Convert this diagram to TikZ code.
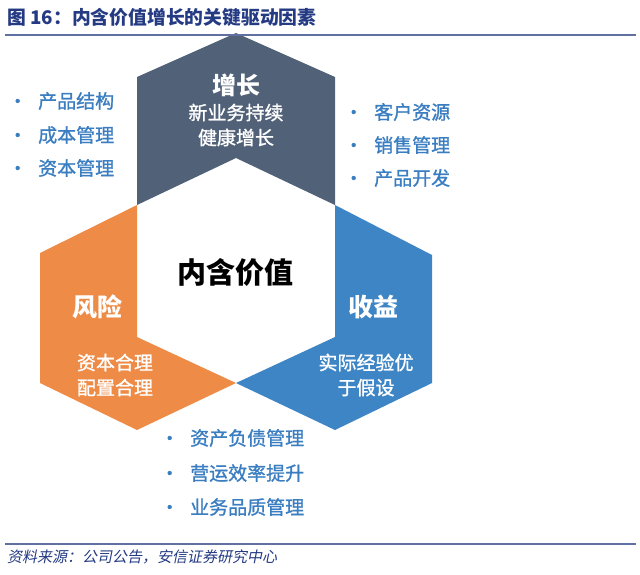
\documentclass[tikz,border=0pt]{standalone}
\usepackage{fontspec}
\setmainfont{Noto Sans CJK SC}
\newfontfamily\slantcjk{Noto Sans CJK SC}[FakeSlant=0.2]
\newfontfamily\medcjk{Noto Sans CJK SC}[FakeBold=1.2]
\usepackage{xcolor}
\definecolor{growthslate}{RGB}{80, 97, 120}
\definecolor{riskorange}{RGB}{238, 139, 70}
\definecolor{yieldblue}{RGB}{62, 133, 197}
\definecolor{itemblue}{RGB}{58, 125, 192}
\definecolor{titleblue}{RGB}{36, 58, 130}
\definecolor{rulegray}{RGB}{96, 112, 160}
\usepackage{tikz}

\newcommand{\bul}{\makebox[30pt][l]{•}}

\begin{document}
\begin{tikzpicture}[x=1pt, y=-1pt,
    head/.style={text=white, font=\bfseries\fontsize{25}{30}\selectfont},
    body/.style={text=white, align=center, font=\medcjk\fontsize{19}{25}\selectfont},
    item/.style={anchor=west, inner sep=0pt, text=itemblue, font=\medcjk\fontsize{19}{24}\selectfont},
    rule/.style={rulegray, line width=1.4pt}]
    \useasboundingbox (0,0) rectangle (640,574);

    \coordinate (hexT) at (236,158);
    \coordinate (hexUL) at (137,205);
    \coordinate (hexLL) at (137,337);
    \coordinate (hexB) at (236,383);
    \coordinate (hexLR) at (335,337);
    \coordinate (hexUR) at (335,205);

    \fill[growthslate] (hexUL) -- (hexT) -- (hexUR) -- (335,77) -- (236,33) -- (137,77) -- cycle;
    \fill[riskorange] (hexUL) -- (hexLL) -- (hexB) -- (137,430) -- (40,383) -- (40,253) -- cycle;
    \fill[yieldblue] (hexUR) -- (hexLR) -- (hexB) -- (335,430) -- (432,383) -- (432,255) -- cycle;

    \draw[rule] (5,35) -- (636,35);
    \draw[rule] (5,544) -- (636,544);

    \node[anchor=west, inner sep=0pt, text=titleblue, font=\bfseries\fontsize{18.8}{22}\selectfont] (title) at (7,17) {图 16：内含价值增长的关键驱动因素};
    \node[anchor=west, inner sep=0pt, text=titleblue, font=\slantcjk\fontsize{15}{18}\selectfont] (source) at (7,557) {资料来源：公司公告，安信证券研究中心};

    \node[head, font=\bfseries\fontsize{24}{28}\selectfont] (growth) at (236,85) {增长};
    \node[body] (growthtxt) at (236,125) {新业务持续\\健康增长};
    \node[font=\bfseries\fontsize{29}{34}\selectfont] (core) at (235,272) {内含价值};
    \node[head] (risk) at (97,307) {风险};
    \node[body] (risktxt) at (115,375) {资本合理\\配置合理};
    \node[head] (yield) at (373,307) {收益};
    \node[body] (yieldtxt) at (366,375) {实际经验优\\于假设};

    \node[item] (growth1) at (8,101) {\bul 产品结构};
    \node[item] (growth2) at (8,135) {\bul 成本管理};
    \node[item] (growth3) at (8,168) {\bul 资本管理};
    \node[item] (yield1) at (344,112) {\bul 客户资源};
    \node[item] (yield2) at (344,145) {\bul 销售管理};
    \node[item] (yield3) at (344,178) {\bul 产品开发};
    \node[item] (risk1) at (160,438) {\bul 资产负债管理};
    \node[item] (risk2) at (160,473) {\bul 营运效率提升};
    \node[item] (risk3) at (160,507) {\bul 业务品质管理};
\end{tikzpicture}
\end{document}
